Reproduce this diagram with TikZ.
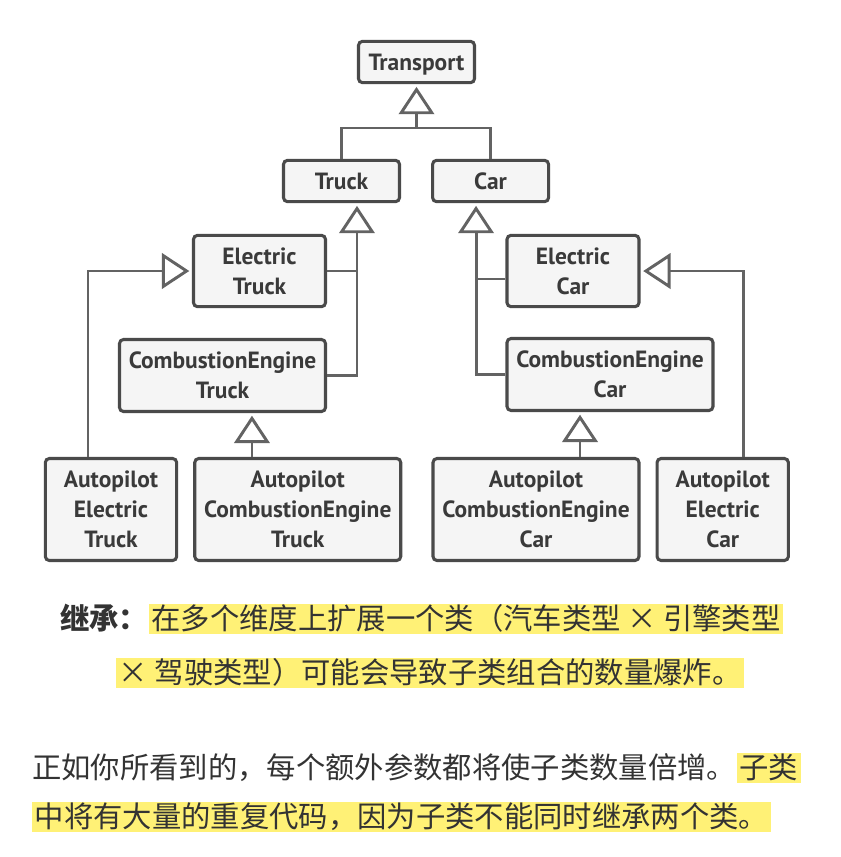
\documentclass[tikz,border=0pt]{standalone}
\usepackage{fontspec}
\usepackage{tikz}
\usetikzlibrary{positioning, arrows.meta, calc}
\newfontfamily\boxfont{PT Sans}
\newfontfamily\cjk{Noto Sans CJK SC}
\definecolor{boxfill}{HTML}{F5F5F5}
\definecolor{boxline}{HTML}{4A4A4A}
\definecolor{connline}{HTML}{636363}
\definecolor{boxtext}{HTML}{3A3A3A}
\definecolor{bodytext}{HTML}{333333}
\definecolor{hlyellow}{HTML}{FFF176}

\begin{document}
\begin{tikzpicture}[x=0.75pt, y=-0.75pt,
                cls/.style={draw=boxline, line width=2.3pt, fill=boxfill, rounded corners=3pt, align=center, text=boxtext, inner sep=0pt, font=\boxfont\bfseries\fontsize{17.6}{22.5}\selectfont},
                small/.style={cls, minimum width=87pt, minimum height=31pt, text depth=0pt},
                mid/.style={cls, minimum width=99pt, minimum height=53.5pt},
                wide/.style={cls, minimum width=154.5pt, minimum height=54pt},
                tall/.style={cls, minimum width=98.5pt, minimum height=76.5pt},
                tallwide/.style={cls, minimum width=154.5pt, minimum height=76.5pt},
                conn/.style={draw=connline, line width=2.2pt},
                inh/.style={conn, -{Triangle[length=20.5pt, width=26.5pt, fill=white]}, shorten >=2pt},
                line/.style={font=\cjk\fontsize{22}{26}\selectfont, text=bodytext, inner xsep=0pt, inner ysep=0pt, text height=19pt, text depth=3.5pt},
                hl/.style={line, fill=hlyellow, inner xsep=2pt}
            ]
            \useasboundingbox (0,0) rectangle (841,857);

            % Klassen
            \node[small] (transport) at (416.5,62) {Transport};
            \node[small] (truck) at (341.5,181) {Truck};
            \node[small, right=22.5pt of truck] (car) {Car};
            \node[mid] (etruck) at (259.5,271) {Electric\\Truck};
            \node[wide] (cetruck) at (222.5,375.5) {CombustionEngine\\Truck};
            \node[tall] (aetruck) at (111,509.5) {Autopilot\\Electric\\Truck};
            \node[tallwide, right=11.25pt of aetruck] (acetruck) {Autopilot\\CombustionEngine\\Truck};
            \node[mid] (ecar) at (573,271) {Electric\\Car};
            \node[wide] (cecar) at (610,374.5) {CombustionEngine\\Car};
            \node[tallwide] (acecar) at (536,509.5) {Autopilot\\CombustionEngine\\Car};
            \node[tall, right=11.25pt of acecar] (aecar) {Autopilot\\Electric\\Car};

            % Vererbung
            \coordinate (top) at (transport.south |- 0,128);
            \coordinate (tspine) at ([xshift=11.6pt]truck.south);
            \coordinate (cspine) at ([xshift=-10.9pt]car.south);
            \draw[conn] (truck.north) |- (top) -| (car.north);
            \draw[inh] (top) -- (transport.south);
            \draw[inh] (cetruck.east) -| (tspine);
            \draw[conn] (etruck.east) -- (etruck.east -| tspine);
            \draw[inh] (cecar.west) -| (cspine);
            \draw[conn] ([yshift=-6pt]ecar.west) -- ([yshift=-6pt]ecar.west -| cspine);
            \draw[inh] ([xshift=-17.25pt]aetruck.north) |- (etruck.west);
            \draw[inh] ([xshift=22.1pt]cetruck.south |- acetruck.north) -- ([xshift=22.1pt]cetruck.south);
            \draw[inh] ([xshift=-22.5pt]cecar.south |- acecar.north) -- ([xshift=-22.5pt]cecar.south);
            \draw[inh] ([xshift=15.75pt]aecar.north) |- (ecar.east);

            % Text
            \node[line, anchor=base west] (lbl) at (60,629) {\bfseries 继承：};
            \node[hl, right=0pt of lbl] (cap1) {在多个维度上扩展一个类（汽车类型 × 引擎类型};
            \node[hl, anchor=base west] (cap2) at (116,683) {× 驾驶类型）可能会导致子类组合的数量爆炸。};
            \node[line, anchor=base west] (para1) at (32,778) {正如你所看到的，每个额外参数都将使子类数量倍增。};
            \node[hl, right=0pt of para1] (para1b) {子类};
            \node[hl, anchor=base west] (para2) at (32,827) {中将有大量的重复代码，因为子类不能同时继承两个类。};

        \end{tikzpicture}
\end{document}
